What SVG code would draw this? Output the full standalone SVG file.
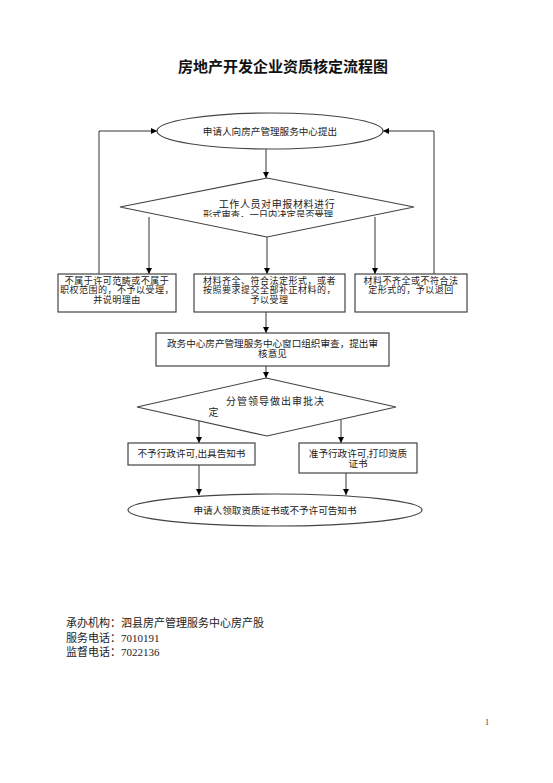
<svg xmlns="http://www.w3.org/2000/svg" width="553" height="783" viewBox="0 0 553 783">
<style>
.s{fill:none;stroke:#333;stroke-width:1}
.b{fill:#fff;stroke:#444;stroke-width:1.2}
.t{font-family:"Liberation Serif","Noto Sans CJK SC",serif;font-size:9.6px;fill:#222;text-anchor:middle;dominant-baseline:central}
.m{font-size:9px;letter-spacing:0.5px}
.l{font-family:"Liberation Serif","Noto Sans CJK SC",serif;font-size:11px;fill:#222;dominant-baseline:central}
</style>
<defs>
<marker id="a" viewBox="0 0 10 10" refX="10" refY="5" markerWidth="6" markerHeight="6" orient="auto" markerUnits="userSpaceOnUse">
<path d="M0,0 L10,5 L0,10 z" fill="#000"/>
</marker>
<clipPath id="c1"><rect x="120" y="178" width="300" height="39"/></clipPath>
</defs>
<rect width="553" height="783" fill="#fff"/>
<text x="283" y="65" style="font-family:'Noto Sans CJK SC',sans-serif;font-size:15px;font-weight:bold;fill:#111;text-anchor:middle;dominant-baseline:central">房地产开发企业资质核定流程图</text>

<g id="connectors">
<path class="s" d="M266,149 V178" marker-end="url(#a)"/>
<path class="s" d="M99,274 V131 H157" marker-end="url(#a)"/>
<path class="s" d="M434,274 V131 H383" marker-end="url(#a)"/>
<path class="s" d="M149,217 V274" marker-end="url(#a)"/>
<path class="s" d="M267,237 V274" marker-end="url(#a)"/>
<path class="s" d="M375,217 V274" marker-end="url(#a)"/>
<path class="s" d="M266,312 V333" marker-end="url(#a)"/>
<path class="s" d="M266,366 V378" marker-end="url(#a)"/>
<path class="s" d="M199,420 V443" marker-end="url(#a)"/>
<path class="s" d="M341,420 V443" marker-end="url(#a)"/>
<path class="s" d="M199,465 V495" marker-end="url(#a)"/>
<path class="s" d="M346,473 V495" marker-end="url(#a)"/>
</g>

<g id="start">
<ellipse class="b" cx="270" cy="131" rx="113" ry="18"/>
<text class="t" x="270" y="131">申请人向房产管理服务中心提出</text>
</g>

<g id="check">
<path class="b" d="M267,178 L414,207 L267,237 L120,207 Z"/>
<text class="t" x="277" y="204" style="font-size:10px;letter-spacing:0.6px">工作人员对申报材料进行</text>
<text class="t" x="268" y="215" clip-path="url(#c1)" style="font-size:9.3px">形式审查，一日内决定是否受理</text>
</g>

<g id="reject1">
<rect class="b" x="58" y="274" width="118" height="38"/>
<text class="t m" x="117" y="280.5">不属于许可范畴或不属于</text>
<text class="t m" x="117" y="290">职权范围的，不予以受理，</text>
<text class="t m" x="117" y="299.5">并说明理由</text>
</g>

<g id="accept">
<rect class="b" x="194" y="274" width="151" height="38"/>
<text class="t m" x="269.5" y="280.5">材料齐全、符合法定形式，或者</text>
<text class="t m" x="269.5" y="290">按照要求提交全部补正材料的，</text>
<text class="t m" x="269.5" y="299.5">予以受理</text>
</g>

<g id="return">
<rect class="b" x="355" y="274" width="112" height="38"/>
<text class="t m" x="411" y="280.5">材料不齐全或不符合法</text>
<text class="t m" x="411" y="290">定形式的，予以退回</text>
</g>

<g id="review">
<rect class="b" x="156" y="333" width="233" height="33"/>
<text class="t" x="272.5" y="343">政务中心房产管理服务中心窗口组织审查，提出审</text>
<text class="t" x="272.5" y="353">核意见</text>
</g>

<g id="decide">
<path class="b" d="M266,378 L396,407 L267,436 L137,407 Z"/>
<text class="t" x="275.5" y="401" style="font-size:10px;letter-spacing:1px">分管领导做出审批决</text>
<text class="t" x="213.5" y="412" style="font-size:10px">定</text>
</g>

<g id="deny">
<rect class="b" x="128" y="443" width="127" height="22"/>
<text class="t" x="191.5" y="453">不予行政许可,出具告知书</text>
</g>

<g id="grant">
<rect class="b" x="299" y="443" width="118" height="30"/>
<text class="t" x="358" y="453">准予行政许可,打印资质</text>
<text class="t" x="358" y="463">证书</text>
</g>

<g id="end">
<ellipse class="b" cx="275" cy="510" rx="147" ry="16"/>
<text class="t" x="275" y="510">申请人领取资质证书或不予许可告知书</text>
</g>

<g id="info">
<text class="l" x="66" y="623">承办机构：泗县房产管理服务中心房产股</text>
<text class="l" x="66" y="638">服务电话：7010191</text>
<text class="l" x="66" y="652">监督电话：7022136</text>
</g>
<text x="487" y="722" style="font-family:'Liberation Serif',serif;font-size:8px;fill:#333;text-anchor:middle;dominant-baseline:central">1</text>
</svg>
